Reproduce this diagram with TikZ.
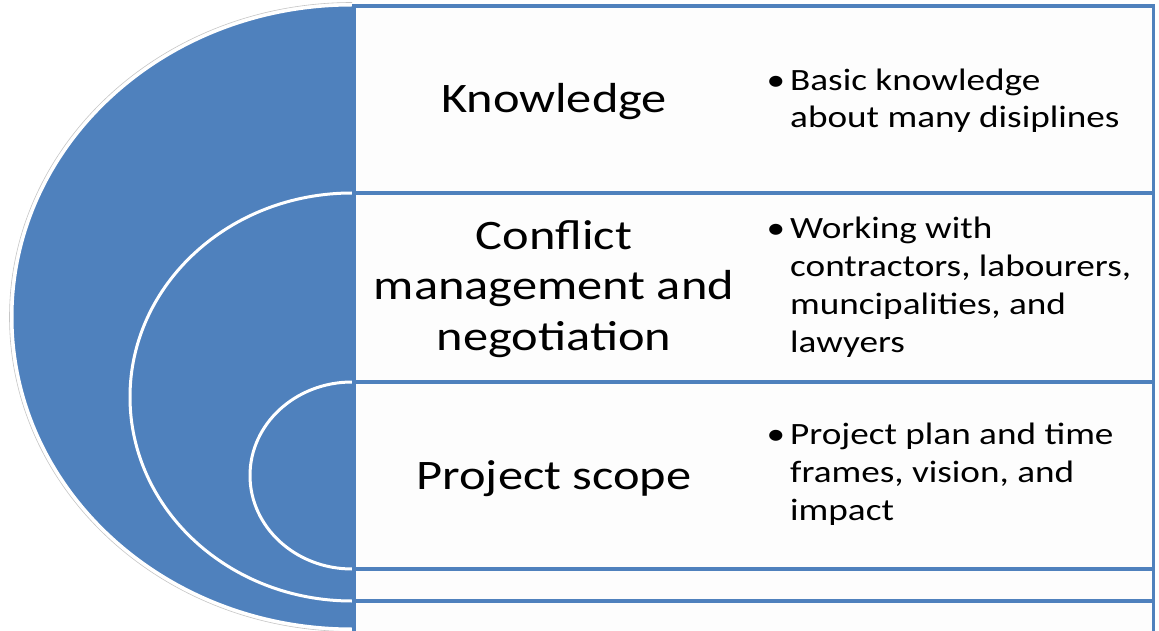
\documentclass[tikz,border=0pt]{standalone}
\usepackage{fontspec}
\setmainfont{Carlito}[FakeStretch=1.2]
\definecolor{obl}{HTML}{4F81BD}
\definecolor{boxfill}{HTML}{FDFDFD}
\begin{document}
\begin{tikzpicture}[x=1pt,y=1pt,
  band/.style={fill=obl},
  ring/.style={draw=white,line width=3pt},
  panel/.style={draw=obl,line width=3.5pt,fill=boxfill},
  lab/.style={inner sep=0pt,align=center,anchor=base,font=\fontsize{42}{50.5}\selectfont},
  det/.style={inner sep=0pt,align=left,anchor=base west,font=\fontsize{31}{37.7}\selectfont}]
\path[use as bounding box,clip] (0,0) rectangle (1159,630);
\fill[white] (0,0) rectangle (1159,630);
% outer band
\begin{scope}
  \clip (0,0) rectangle (352,630);
  \draw[gray!45,line width=0.6pt] (352,313) ellipse[x radius=342.5, y radius=314.5];
  \fill[band] (352,313) ellipse[x radius=340, y radius=312];
  \draw[ring] (352,313) ellipse[x radius=340, y radius=312];
\end{scope}
\draw[panel] (354,624) rectangle (1153.5,-6);
% middle band
\begin{scope}
  \clip (0,0) rectangle (352,630);
  \fill[band] (352,233) ellipse[x radius=222, y radius=204];
  \draw[ring] (352,233) ellipse[x radius=222, y radius=204];
\end{scope}
\draw[panel] (354,437) rectangle (1153.5,29);
% inner band
\begin{scope}
  \clip (0,0) rectangle (352,630);
  \fill[band] (352,154.5) ellipse[x radius=102, y radius=93.5];
  \draw[ring] (352,154.5) ellipse[x radius=102, y radius=93.5];
\end{scope}
\draw[panel] (354,248) rectangle (1153.5,61);
% labels (anchor base = baseline of last line)
\node[lab] (k) at (554,517) {Knowledge};
\node[lab] (c) at (554,280) {Conflict\\management and\\negotiation};
\node[lab] (p) at (554,141) {Project scope};
% details
\node[det] (kd) at (790,502) {\llap{•\hspace{5pt}}Basic knowledge\\about many disiplines};
\node[det] (cd) at (790,278) {\llap{•\hspace{5pt}}Working with\\contractors, labourers,\\muncipalities, and\\lawyers};
\node[det] (pd) at (790,110) {\llap{•\hspace{5pt}}Project plan and time\\frames, vision, and\\impact};
\end{tikzpicture}
\end{document}
